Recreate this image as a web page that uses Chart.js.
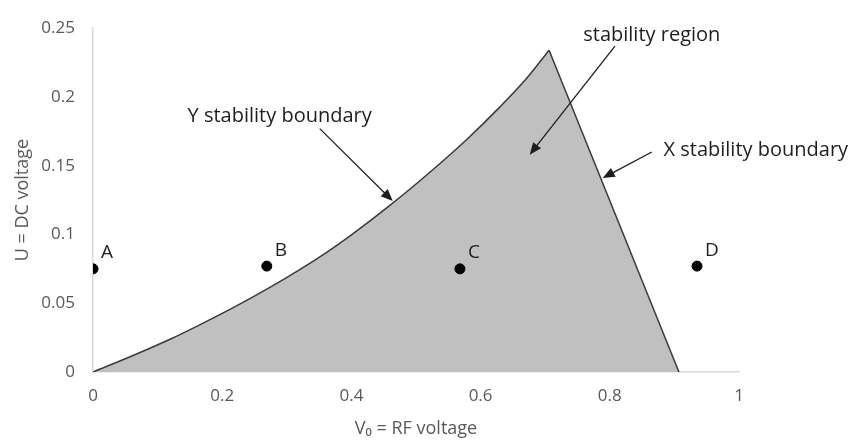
<!DOCTYPE html>
<html>
<head>
<meta charset="utf-8">
<title>Stability diagram</title>
<script src="https://cdn.jsdelivr.net/npm/chart.js"></script>
<style>
html, body { margin: 0; padding: 0; background: #fff; }
#wrap { width: 859px; height: 445px; }
</style>
</head>
<body>
<div id="wrap"><canvas id="myChart" width="859" height="445"></canvas></div>
<script>
// boundary of the stability region
const boundaryX = [0, 0.062, 0.12, 0.166, 0.22, 0.269, 0.32, 0.36, 0.398, 0.46, 0.526, 0.579, 0.63, 0.67, 0.706, 0.907];
const boundaryY = [0, 0.012, 0.024, 0.0345, 0.0475, 0.0602, 0.0745, 0.0865, 0.099, 0.1213, 0.1471, 0.1693, 0.1928, 0.2128, 0.234, 0];
const apexIndex = 14; // last point of the curved Y boundary

// operating points
const pointNames = ["A", "B", "C", "D"];
const pointX = [0, 0.269, 0.568, 0.935];
const pointY = [0.075, 0.077, 0.075, 0.077];

const xTicks = [0, 0.2, 0.4, 0.6, 0.8, 1];
const yTicks = [0, 0.05, 0.1, 0.15, 0.2, 0.25];

const xTitle = "V\u2080 = RF voltage";
const yTitle = "U = DC voltage";

const noteTexts = ["Y stability boundary", "stability region", "X stability boundary"];

// annotation placement in data units
const notes = [
  {tx: 0.289, ty: 0.186, x1: 0.351, y1: 0.177, x2: 0.464, y2: 0.1243},
  {tx: 0.865, ty: 0.245, x1: 0.808, y1: 0.237, x2: 0.676, y2: 0.158},
  {tx: 1.026, ty: 0.161, x1: 0.865, y1: 0.160, x2: 0.789, y2: 0.141}
];

const FONT = "'Open Sans', 'DejaVu Sans', sans-serif";

function arrow(ctx, xa, ya, xb, yb) {
  const ang = Math.atan2(yb - ya, xb - xa);
  const len = 12, half = 5;
  ctx.beginPath();
  ctx.moveTo(xa, ya);
  ctx.lineTo(xb - Math.cos(ang) * len * 0.8, yb - Math.sin(ang) * len * 0.8);
  ctx.stroke();
  ctx.beginPath();
  ctx.moveTo(xb, yb);
  ctx.lineTo(xb - Math.cos(ang) * len - Math.sin(ang) * half, yb - Math.sin(ang) * len + Math.cos(ang) * half);
  ctx.lineTo(xb - Math.cos(ang) * len + Math.sin(ang) * half, yb - Math.sin(ang) * len - Math.cos(ang) * half);
  ctx.closePath();
  ctx.fill();
}

const notesPlugin = {
  id: "notes",
  afterDatasetsDraw(chart) {
    const ctx = chart.ctx;
    const xs = chart.scales.x, ys = chart.scales.y;
    ctx.save();
    ctx.fillStyle = "#1e1e1e";
    ctx.strokeStyle = "#1e1e1e";
    ctx.lineWidth = 1.3;
    ctx.font = "20px " + FONT;
    ctx.textAlign = "center";
    ctx.textBaseline = "middle";
    notes.forEach((n, i) => {
      ctx.fillText(noteTexts[i], xs.getPixelForValue(n.tx), ys.getPixelForValue(n.ty));
      arrow(ctx, xs.getPixelForValue(n.x1), ys.getPixelForValue(n.y1),
                 xs.getPixelForValue(n.x2), ys.getPixelForValue(n.y2));
    });
    // point letters
    const meta = chart.getDatasetMeta(2);
    ctx.font = "19px " + FONT;
    ctx.textAlign = "left";
    meta.data.forEach((el, i) => {
      ctx.fillText(pointNames[i], el.x + 8, el.y - 16);
    });
    ctx.restore();
  }
};

const regionData = boundaryX.map((x, i) => ({x: x, y: boundaryY[i]}));
const curveData = regionData.slice(0, apexIndex + 1);
const edgeData = regionData.slice(apexIndex);
const pointData = pointX.map((x, i) => ({x: x, y: pointY[i]}));

const tickFmt = v => String(Math.round(v * 100) / 100);

const chart = new Chart("myChart", {
  type: "scatter",
  data: {
    datasets: [
      {
        // filled region, no outline
        data: regionData,
        showLine: true,
        fill: "origin",
        backgroundColor: "#c0c0c0",
        borderWidth: 0,
        borderColor: "rgba(0,0,0,0)",
        pointRadius: 0,
        tension: 0,
        order: 3
      },
      {
        // smooth Y boundary
        data: curveData,
        showLine: true,
        fill: false,
        borderColor: "#3a3a3a",
        borderWidth: 1.5,
        pointRadius: 0,
        cubicInterpolationMode: "monotone",
        order: 2
      },
      {
        data: pointData,
        backgroundColor: "#000",
        borderColor: "#000",
        pointRadius: 5,
        order: 0
      },
      {
        // straight X boundary
        data: edgeData,
        showLine: true,
        fill: false,
        borderColor: "#3a3a3a",
        borderWidth: 1.5,
        pointRadius: 0,
        tension: 0,
        order: 2
      }
    ]
  },
  options: {
    responsive: false,
    animation: false,
    layout: {padding: {left: 10, right: 120, top: 20, bottom: 5}},
    plugins: {legend: {display: false}, tooltip: {enabled: false}},
    scales: {
      x: {
        type: "linear",
        min: 0, max: 1,
        afterBuildTicks: s => { s.ticks = xTicks.map(v => ({value: v})); },
        afterFit: s => { s.height = 68; },
        grid: {display: true, drawTicks: false, color: "transparent"},
        border: {display: true, color: "#d9d9d9", width: 1.5},
        ticks: {color: "#595959", font: {family: FONT, size: 17}, padding: 14, callback: tickFmt},
        title: {display: true, text: xTitle, color: "#595959", font: {family: FONT, size: 18}, padding: {top: 4, bottom: 0}}
      },
      y: {
        type: "linear",
        min: 0, max: 0.25,
        afterBuildTicks: s => { s.ticks = yTicks.map(v => ({value: v})); },
        afterFit: s => { s.width = 83; },
        grid: {display: true, drawTicks: false, color: "transparent"},
        border: {display: true, color: "#d9d9d9", width: 1.5},
        ticks: {color: "#595959", font: {family: FONT, size: 17}, padding: 18, callback: tickFmt},
        title: {display: true, text: yTitle, color: "#595959", font: {family: FONT, size: 18}, padding: {top: 2, bottom: 0}}
      }
    }
  },
  plugins: [notesPlugin]
});
</script>
</body>
</html>
